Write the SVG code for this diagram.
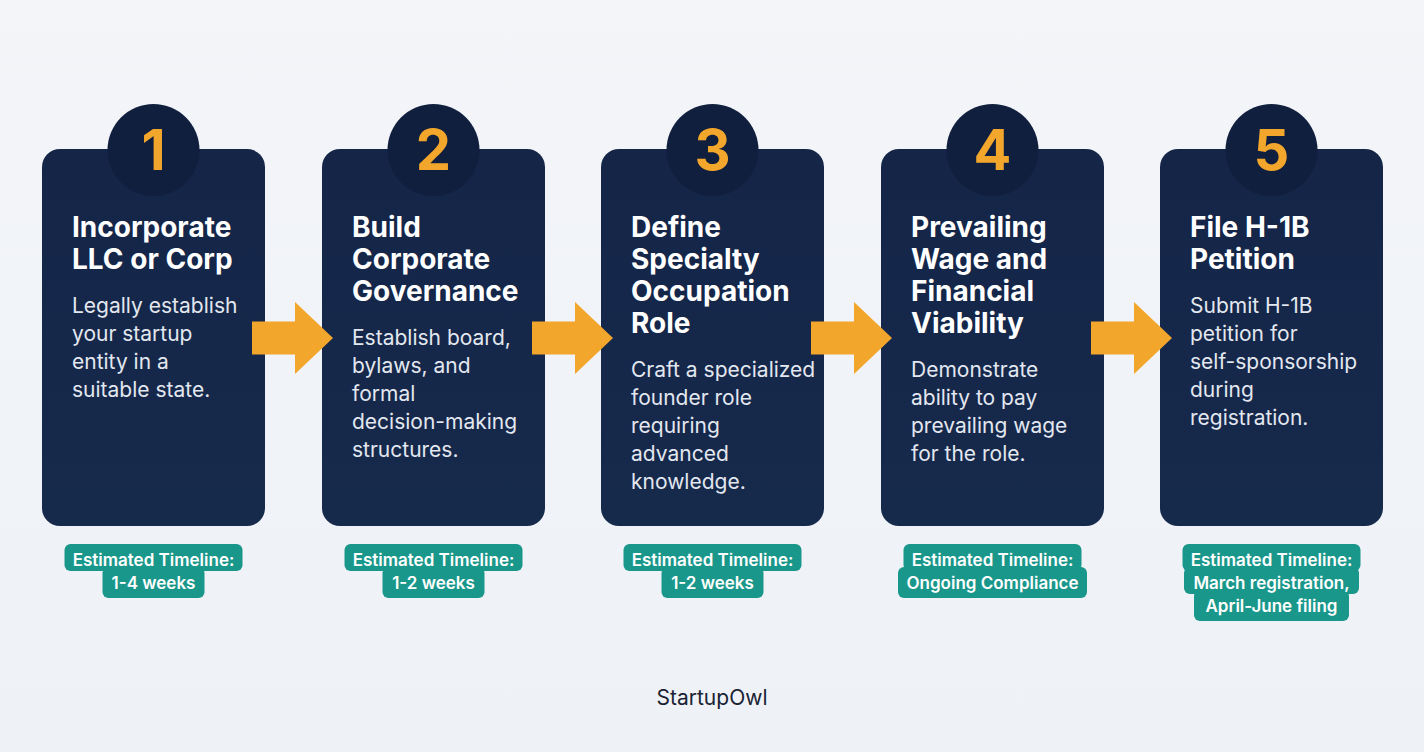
<svg xmlns="http://www.w3.org/2000/svg" width="1424" height="752" viewBox="0 0 1424 752">
<defs>
<linearGradient id="bg" x1="0" y1="0" x2="0" y2="1"><stop offset="0" stop-color="#f3f5f9"/><stop offset="1" stop-color="#eef1f6"/></linearGradient>
<linearGradient id="card" x1="0" y1="0" x2="0" y2="1"><stop offset="0" stop-color="#142548"/><stop offset="1" stop-color="#162a4c"/></linearGradient>
<style>
.card{fill:url(#card)}
.circ{fill:#111f3e}
.num{font-family:Inter,"Liberation Sans",sans-serif;font-weight:700;font-size:56px;fill:#f2a62c;text-anchor:middle}
.title{font-family:Inter,"Liberation Sans",sans-serif;font-weight:700;font-size:28px;fill:#ffffff}
.body{font-family:Inter,"Liberation Sans",sans-serif;font-weight:400;font-size:21px;fill:#e3e7ef}
.badge{fill:#1a978b}
.btxt{font-family:Inter,"Liberation Sans",sans-serif;font-weight:600;font-size:17px;fill:#ffffff;text-anchor:middle}
.arrow{fill:#f2a62c}
.brand{font-family:Inter,"Liberation Sans",sans-serif;font-size:21px;fill:#1a2233;text-anchor:middle}
</style>
</defs>
<rect width="1424" height="752" fill="url(#bg)"/>

<g id="node1">
<rect class="card" x="42" y="149" width="223" height="377" rx="18"/>
<circle class="circ" cx="153.5" cy="150" r="46"/>
<text class="num" x="153.5" y="170">1</text>
<text class="title" x="72"><tspan x="72" y="237">Incorporate</tspan><tspan x="72" y="269">LLC or Corp</tspan></text>
<text class="body"><tspan x="72" y="313">Legally establish</tspan><tspan x="72" y="341">your startup</tspan><tspan x="72" y="369">entity in a</tspan><tspan x="72" y="397">suitable state.</tspan></text>
<rect class="badge" x="64.5" y="544" width="178" height="27" rx="6"/>
<rect class="badge" x="102.5" y="567" width="102" height="31" rx="6"/>
<text class="btxt"><tspan x="153.5" y="566">Estimated Timeline:</tspan><tspan x="153.5" y="589">1-4 weeks</tspan></text>
</g>

<g id="node2">
<rect class="card" x="322" y="149" width="223" height="377" rx="18"/>
<circle class="circ" cx="433.5" cy="150" r="46"/>
<text class="num" x="433.5" y="170">2</text>
<text class="title"><tspan x="352" y="237">Build</tspan><tspan x="352" y="269">Corporate</tspan><tspan x="352" y="301">Governance</tspan></text>
<text class="body"><tspan x="352" y="345">Establish board,</tspan><tspan x="352" y="373">bylaws, and</tspan><tspan x="352" y="401">formal</tspan><tspan x="352" y="429">decision-making</tspan><tspan x="352" y="457">structures.</tspan></text>
<rect class="badge" x="344.5" y="544" width="178" height="27" rx="6"/>
<rect class="badge" x="382.5" y="567" width="102" height="31" rx="6"/>
<text class="btxt"><tspan x="433.5" y="566">Estimated Timeline:</tspan><tspan x="433.5" y="589">1-2 weeks</tspan></text>
</g>

<g id="node3">
<rect class="card" x="601" y="149" width="223" height="377" rx="18"/>
<circle class="circ" cx="712.5" cy="150" r="46"/>
<text class="num" x="712.5" y="170">3</text>
<text class="title"><tspan x="631" y="237">Define</tspan><tspan x="631" y="269">Specialty</tspan><tspan x="631" y="301">Occupation</tspan><tspan x="631" y="333">Role</tspan></text>
<text class="body"><tspan x="631" y="377">Craft a specialized</tspan><tspan x="631" y="405">founder role</tspan><tspan x="631" y="433">requiring</tspan><tspan x="631" y="461">advanced</tspan><tspan x="631" y="489">knowledge.</tspan></text>
<rect class="badge" x="623.5" y="544" width="178" height="27" rx="6"/>
<rect class="badge" x="661.5" y="567" width="102" height="31" rx="6"/>
<text class="btxt"><tspan x="712.5" y="566">Estimated Timeline:</tspan><tspan x="712.5" y="589">1-2 weeks</tspan></text>
</g>

<g id="node4">
<rect class="card" x="881" y="149" width="223" height="377" rx="18"/>
<circle class="circ" cx="992.5" cy="150" r="46"/>
<text class="num" x="992.5" y="170">4</text>
<text class="title"><tspan x="911" y="237">Prevailing</tspan><tspan x="911" y="269">Wage and</tspan><tspan x="911" y="301">Financial</tspan><tspan x="911" y="333">Viability</tspan></text>
<text class="body"><tspan x="911" y="377">Demonstrate</tspan><tspan x="911" y="405">ability to pay</tspan><tspan x="911" y="433">prevailing wage</tspan><tspan x="911" y="461">for the role.</tspan></text>
<rect class="badge" x="903.5" y="544" width="178" height="27" rx="6"/>
<rect class="badge" x="898" y="567" width="189" height="31" rx="6"/>
<text class="btxt"><tspan x="992.5" y="566">Estimated Timeline:</tspan><tspan x="992.5" y="589">Ongoing Compliance</tspan></text>
</g>

<g id="node5">
<rect class="card" x="1160" y="149" width="223" height="377" rx="18"/>
<circle class="circ" cx="1271.5" cy="150" r="46"/>
<text class="num" x="1271.5" y="170">5</text>
<text class="title"><tspan x="1190" y="237">File H-1B</tspan><tspan x="1190" y="269">Petition</tspan></text>
<text class="body"><tspan x="1190" y="313">Submit H-1B</tspan><tspan x="1190" y="341">petition for</tspan><tspan x="1190" y="369">self-sponsorship</tspan><tspan x="1190" y="397">during</tspan><tspan x="1190" y="425">registration.</tspan></text>
<rect class="badge" x="1182.5" y="544" width="178" height="27" rx="6"/>
<rect class="badge" x="1184" y="567" width="175" height="27" rx="6"/>
<rect class="badge" x="1194" y="590" width="155" height="31" rx="6"/>
<text class="btxt"><tspan x="1271.5" y="566">Estimated Timeline:</tspan><tspan x="1271.5" y="589">March registration,</tspan><tspan x="1271.5" y="612">April-June filing</tspan></text>
</g>

<g id="connectors">
<polygon class="arrow" points="252,321.5 295,321.5 295,302 333,338 295,374 295,354.5 252,354.5"/>
<polygon class="arrow" points="532,321.5 575,321.5 575,302 613,338 575,374 575,354.5 532,354.5"/>
<polygon class="arrow" points="811,321.5 854,321.5 854,302 892,338 854,374 854,354.5 811,354.5"/>
<polygon class="arrow" points="1091,321.5 1134,321.5 1134,302 1172,338 1134,374 1134,354.5 1091,354.5"/>
</g>

<text class="brand" x="712" y="705">StartupOwl</text>
</svg>
